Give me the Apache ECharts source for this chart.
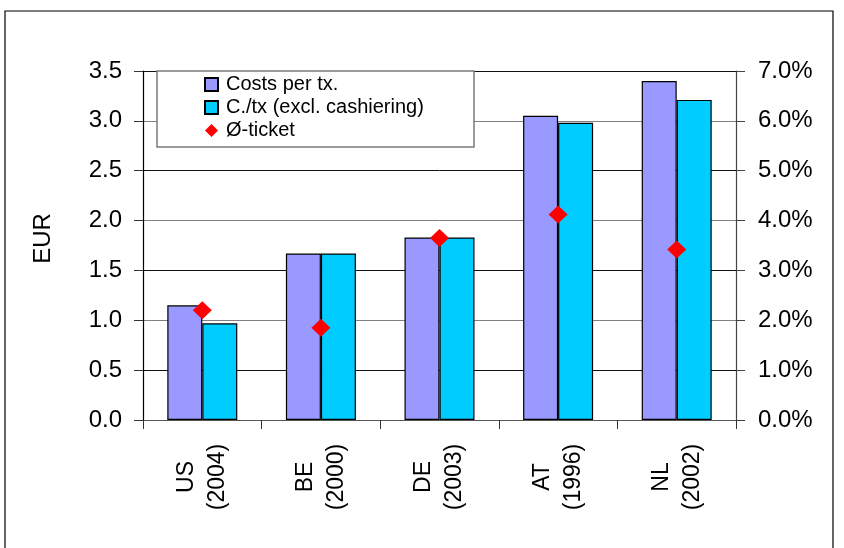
<!DOCTYPE html>
<html>
<head>
<meta charset="utf-8">
<script src="https://cdn.jsdelivr.net/npm/echarts@6/dist/echarts.min.js"></script>
<style>
  html, body { margin: 0; padding: 0; background: #fff; }
  #chart { width: 844px; height: 548px; }
</style>
</head>
<body>
<div id="chart"></div>
<script>
// Cost per transaction by country (EUR) and average ticket share (%)
const categories = ['US\n(2004)', 'BE\n(2000)', 'DE\n(2003)', 'AT\n(1996)', 'NL\n(2002)'];
const costsPerTx = [1.15, 1.67, 1.83, 3.05, 3.40];
const costsExclCashiering = [0.97, 1.67, 1.83, 2.98, 3.21];
const ticketPct = [2.2, 1.85, 3.65, 4.12, 3.42];
const leftTicks = [0, 3.5, 0.5];   // min, max, step (EUR)
const rightTicks = [0, 7, 1];      // min, max, step (%)

const FONT = 'Liberation Sans, Arial, sans-serif';
const chart = echarts.init(document.getElementById('chart'), null, { renderer: 'canvas' });

chart.setOption({
  backgroundColor: '#ffffff',
  animation: false,
  textStyle: { fontFamily: FONT, color: '#000' },
  grid: { left: 143, right: 108, top: 71, bottom: 128, containLabel: false },
  graphic: [
    {
      type: 'rect', z: 0, silent: true,
      shape: { x: 5, y: 11, width: 828, height: 560 },
      style: { fill: 'none', stroke: '#000', lineWidth: 1.2 }
    },
    {
      type: 'rect', z: 10, silent: true,
      shape: { x: 157, y: 71, width: 317, height: 76 },
      style: { fill: '#fff', stroke: '#7a7a7a', lineWidth: 1.5 }
    }
  ],
  legend: {
    z: 20,
    orient: 'vertical',
    left: 204, top: 74,
    padding: 0,
    itemWidth: 13, itemHeight: 13,
    itemGap: 2,
    textStyle: { fontFamily: FONT, fontSize: 20, color: '#000', lineHeight: 21, padding: [0, 0, 0, 3] },
    data: [
      { name: 'Costs per tx.', icon: 'rect' },
      { name: 'C./tx (excl. cashiering)', icon: 'rect' },
      { name: 'Ø-ticket', icon: 'diamond', itemStyle: { borderWidth: 0 } }
    ]
  },
  xAxis: {
    type: 'category',
    data: categories,
    axisLine: { show: true, lineStyle: { color: '#555', width: 1.2 } },
    axisTick: { show: true, alignWithLabel: false, length: 9, lineStyle: { color: '#333' } },
    axisLabel: {
      rotate: 90, align: 'center', verticalAlign: 'middle',
      margin: 57, fontSize: 23, lineHeight: 31, color: '#000', fontFamily: FONT
    },
    splitLine: { show: false }
  },
  yAxis: [
    {
      type: 'value',
      min: leftTicks[0], max: leftTicks[1], interval: leftTicks[2],
      name: 'EUR', nameLocation: 'middle', nameRotate: 90, nameGap: 88,
      nameTextStyle: { fontSize: 24, color: '#000', fontFamily: FONT, padding: [0, 0, 0, 14] },
      axisLine: { show: true, lineStyle: { color: '#000', width: 1.2 } },
      axisTick: { show: true, length: 9, lineStyle: { color: '#333' } },
      axisLabel: { fontSize: 24, margin: 21, color: '#000', fontFamily: FONT,
        formatter: v => v.toFixed(1) },
      splitLine: { show: true, lineStyle: { color: ['#808080', '#111'], width: 1 } }
    },
    {
      type: 'value',
      min: rightTicks[0], max: rightTicks[1], interval: rightTicks[2],
      position: 'right',
      axisLine: { show: true, lineStyle: { color: '#444', width: 1.2 } },
      axisTick: { show: true, length: 9, lineStyle: { color: '#444' } },
      axisLabel: { fontSize: 24, margin: 22, color: '#000', fontFamily: FONT,
        formatter: v => v.toFixed(1) + '%' },
      splitLine: { show: false }
    }
  ],
  series: [
    {
      name: 'Costs per tx.',
      type: 'bar',
      yAxisIndex: 0,
      data: costsPerTx,
      barWidth: 35,
      barGap: '0%',
      itemStyle: { color: '#9999FF', borderColor: '#000', borderWidth: 1.2 }
    },
    {
      name: 'C./tx (excl. cashiering)',
      type: 'bar',
      yAxisIndex: 0,
      data: costsExclCashiering,
      barWidth: 35,
      barGap: '0%',
      itemStyle: { color: '#00CCFF', borderColor: '#000', borderWidth: 1.2 }
    },
    {
      name: 'Ø-ticket',
      type: 'scatter',
      yAxisIndex: 1,
      data: ticketPct,
      symbol: 'diamond',
      symbolSize: [19, 18],
      z: 5,
      itemStyle: { color: '#FF0000', opacity: 1 }
    }
  ]
});
</script>
</body>
</html>
